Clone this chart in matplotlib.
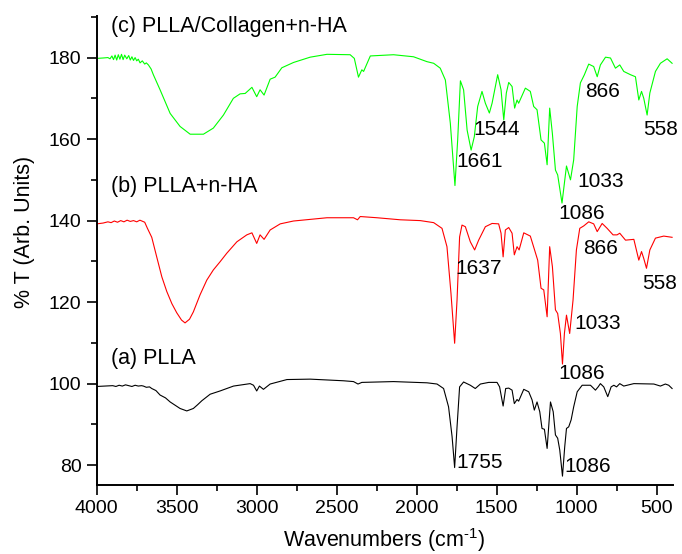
import matplotlib
matplotlib.use("Agg")
import matplotlib.pyplot as plt
from matplotlib.ticker import MultipleLocator

plt.rcParams["font.family"] = ["Liberation Sans", "DejaVu Sans"]
plt.rcParams["mathtext.default"] = "regular"

# (a) PLLA  -- wavenumber (cm-1), %T
plla_wn = [4000, 3950, 3900, 3880, 3860, 3840, 3820, 3800, 3780, 3760, 3740, 3720,
           3708, 3690, 3670, 3656, 3630, 3604, 3570, 3541, 3510, 3479, 3437,
           3396, 3370, 3343, 3291, 3229, 3145, 3041, 3020, 3000, 2983, 2958,
           2916, 2811, 2666, 2458, 2395, 2367, 2343, 2145, 1936, 1873, 1832,
           1801, 1779, 1763, 1748, 1732, 1707, 1665, 1634, 1602, 1550, 1498,
           1482, 1460, 1444, 1425, 1404, 1390, 1373, 1363, 1331, 1300, 1279,
           1265, 1248, 1231, 1217, 1202, 1185, 1164, 1147, 1133, 1119, 1106,
           1089, 1075, 1064, 1050, 1035, 1019, 997, 966, 914, 883, 866, 852,
           831, 806, 785, 768, 751, 731, 706, 643, 518, 477, 446, 425, 404]
plla_t = [99.3, 99.4, 99.5, 99.3, 99.6, 99.4, 99.7, 99.5, 99.3, 99.6, 99.4, 99.5,
          99.4, 99.1, 99.2, 98.8, 98.3, 97.2, 96.5, 95.5, 94.7, 93.9, 93.3,
          93.9, 94.8, 95.8, 97.4, 98.2, 99.4, 100.0, 99.6, 98.2, 99.4, 98.6,
          99.9, 101.0, 101.1, 100.7, 100.5, 99.9, 100.3, 100.5, 100.2, 99.9, 98.8,
          94.3, 87.0, 79.4, 89.4, 99.2, 100.4, 99.6, 98.8, 99.9, 100.3, 100.3,
          99.2, 94.5, 98.8, 98.9, 98.4, 95.1, 96.1, 95.7, 98.6, 98.0, 96.0,
          93.5, 95.5, 93.1, 89.0, 88.8, 84.1, 95.5, 93.1, 87.4, 86.6, 83.7,
          77.3, 84.5, 89.0, 89.4, 91.1, 94.3, 98.0, 99.6, 99.6, 98.4, 99.2, 100.0,
          99.2, 96.8, 99.2, 99.6, 99.2, 100.0, 99.4, 100.0, 99.9, 99.4, 99.9, 99.6, 98.8]

# (b) PLLA+n-HA
ha_wn = [4000, 3960, 3930, 3910, 3890, 3870, 3850, 3830, 3810, 3790, 3770, 3750,
         3730, 3718, 3700, 3683, 3656, 3625, 3593, 3562, 3530, 3500, 3470,
         3448, 3420, 3396, 3354, 3312, 3271, 3229, 3187, 3124, 3062, 3030,
         3000, 2979, 2954, 2916, 2853, 2770, 2561, 2395, 2370, 2353, 2248,
         2103, 1978, 1894, 1842, 1811, 1786, 1763, 1748, 1732, 1717, 1696,
         1665, 1638, 1613, 1571, 1529, 1488, 1473, 1460, 1446, 1425, 1404,
         1390, 1373, 1360, 1331, 1290, 1265, 1244, 1223, 1206, 1185, 1169,
         1152, 1133, 1119, 1102, 1089, 1077, 1064, 1044, 1023, 1002, 981,
         956, 925, 894, 872, 841, 810, 773, 748, 731, 695, 643, 612, 595,
         581, 564, 543, 508, 456, 404]
ha_t = [139.2, 139.4, 139.7, 139.5, 139.9, 139.6, 140.0, 139.7, 140.1, 139.8, 140.0, 139.7,
        140.1, 139.9, 139.6, 138.1, 135.9, 131.1, 126.2, 122.6, 119.6, 117.4, 115.6,
        114.9, 115.8, 117.6, 121.8, 125.4, 127.9, 129.9, 132.0, 134.8, 136.5, 137.0,
        134.4, 136.5, 135.4, 137.7, 139.2, 139.9, 140.7, 140.7, 140.2, 141.0, 140.7,
        140.2, 140.0, 139.5, 138.1, 133.6, 122.2, 109.9, 120.5, 136.0, 138.9, 138.5,
        134.8, 132.8, 135.2, 138.5, 139.3, 139.2, 136.9, 131.1, 137.7, 138.3, 136.9,
        131.6, 133.6, 132.8, 137.0, 136.2, 133.0, 130.3, 123.4, 123.0, 116.4, 133.6,
        128.7, 118.1, 117.2, 112.3, 104.8, 112.3, 116.8, 112.3, 120.5, 132.8, 138.1,
        138.7, 139.7, 139.2, 137.3, 139.3, 138.1, 136.5, 136.5, 136.9, 135.2, 135.4, 130.3, 132.4,
        130.7, 128.3, 132.8, 135.7, 136.2, 135.9]

# (c) PLLA/Collagen+n-HA
col_wn = [4000, 3960, 3930, 3917, 3905, 3895, 3885, 3875, 3865, 3855, 3845, 3835,
          3825, 3812, 3800, 3790, 3780, 3770, 3760, 3750, 3740, 3729, 3715,
          3700, 3690, 3677, 3660, 3646, 3604, 3541, 3479, 3416, 3333, 3271,
          3208, 3146, 3104, 3072, 3030, 3000, 2979, 2954, 2916, 2885, 2843,
          2770, 2666, 2561, 2416, 2390, 2364, 2343, 2332, 2290, 2145, 2020,
          1936, 1894, 1853, 1821, 1790, 1761, 1744, 1727, 1707, 1685, 1660,
          1640, 1619, 1592, 1571, 1546, 1529, 1494, 1473, 1456, 1440, 1425,
          1404, 1388, 1373, 1363, 1321, 1290, 1269, 1248, 1223, 1202, 1185,
          1169, 1152, 1133, 1119, 1092, 1077, 1064, 1039, 1019, 997, 977,
          952, 925, 894, 872, 852, 820, 789, 758, 731, 706, 664, 633, 612,
          595, 581, 560, 543, 508, 477, 435, 404]
col_t = [179.8, 179.9, 180.0, 179.7, 180.4, 179.5, 180.6, 179.4, 180.7, 179.6, 180.8, 179.5,
         180.6, 179.7, 180.5, 179.4, 180.2, 179.3, 180.0, 179.2, 179.6, 178.7, 179.2,
         178.4, 178.7, 178.2, 177.2, 175.8, 172.1, 166.3, 163.1, 161.2, 161.2, 162.7,
         165.9, 170.0, 171.1, 171.2, 172.7, 170.4, 172.1, 170.8, 174.7, 175.2, 177.5,
         178.8, 180.1, 180.8, 180.7, 179.8, 175.2, 177.0, 176.6, 180.4, 180.7, 180.2,
         179.0, 178.6, 177.4, 174.5, 163.9, 148.6, 159.8, 174.3, 172.1, 162.2, 157.3,
         160.6, 168.0, 171.7, 168.8, 166.4, 168.8, 175.8, 172.1, 164.7, 171.3, 173.9,
         172.9, 167.6, 169.6, 168.8, 172.5, 171.7, 168.0, 167.2, 159.8, 159.0, 153.7,
         167.6, 161.3, 152.4, 151.2, 144.3, 149.2, 153.4, 150.0, 154.9, 168.0, 173.8,
         175.8, 178.4, 177.8, 175.3, 178.2, 180.1, 179.9, 177.4, 178.2, 176.6, 175.8, 175.3, 169.6,
         171.7, 170.0, 165.9, 171.3, 176.6, 178.6, 179.7, 178.6]

curve_labels = ["(a) PLLA", "(b) PLLA+n-HA", "(c) PLLA/Collagen+n-HA"]
label_pos = [(3910, 104.85), (3910, 147.0), (3910, 186.2)]

peak_text = ["1544", "1661", "1033", "1086", "866", "558",
             "1637", "866", "558", "1033", "1086",
             "1755", "1086"]
peak_pos = [(1647, 161.1), (1751, 153.1), (994, 148.3), (1115, 140.4), (945, 170.3), (583, 161.1),
            (1761, 126.9), (958, 131.8), (591, 123.2), (1015, 113.4), (1115, 101.1),
            (1751, 79.2), (1077, 78.4)]

fig = plt.figure(figsize=(6.82, 5.54), dpi=100)
ax = fig.add_axes([0.1418, 0.1251, 0.8446, 0.846])

ax.plot(plla_wn, plla_t, color="black", lw=0.8)
ax.plot(ha_wn, ha_t, color="#ff0000", lw=0.8)
ax.plot(col_wn, col_t, color="#00ff00", lw=0.8)

ax.set_xlim(4000, 400)
ax.set_ylim(75.2, 190.2)
ax.xaxis.set_major_locator(MultipleLocator(500))
ax.xaxis.set_minor_locator(MultipleLocator(250))
ax.set_yticks([80, 100, 120, 140, 160, 180])
ax.yaxis.set_minor_locator(MultipleLocator(10))

for side in ("top", "right"):
    ax.spines[side].set_visible(False)
for side in ("left", "bottom"):
    ax.spines[side].set_linewidth(1.4)
# reference uses a narrow face for the ticks; no narrow font here, so go a bit smaller
ax.tick_params(which="major", direction="out", length=7.5, width=1.2, pad=3.5,
               labelsize=14)
ax.tick_params(which="minor", direction="out", length=4.3, width=1.2)

for txt, (x, y) in zip(curve_labels, label_pos):
    ax.text(x, y, txt, fontsize=15.5, ha="left", va="baseline")
for txt, (x, y) in zip(peak_text, peak_pos):
    ax.text(x, y, txt, fontsize=15, ha="left", va="baseline")

fig.text(25 / 682, 1 - 231.5 / 554, "% T (Arb. Units)", rotation=90,
         fontsize=15.5, ha="center", va="center")
fig.text(384 / 682, 1 - 547 / 554, "Wavenumbers (cm$^{\u20101}$)",
         fontsize=15.5, ha="center", va="baseline")

fig.savefig("out.png", dpi=100)
